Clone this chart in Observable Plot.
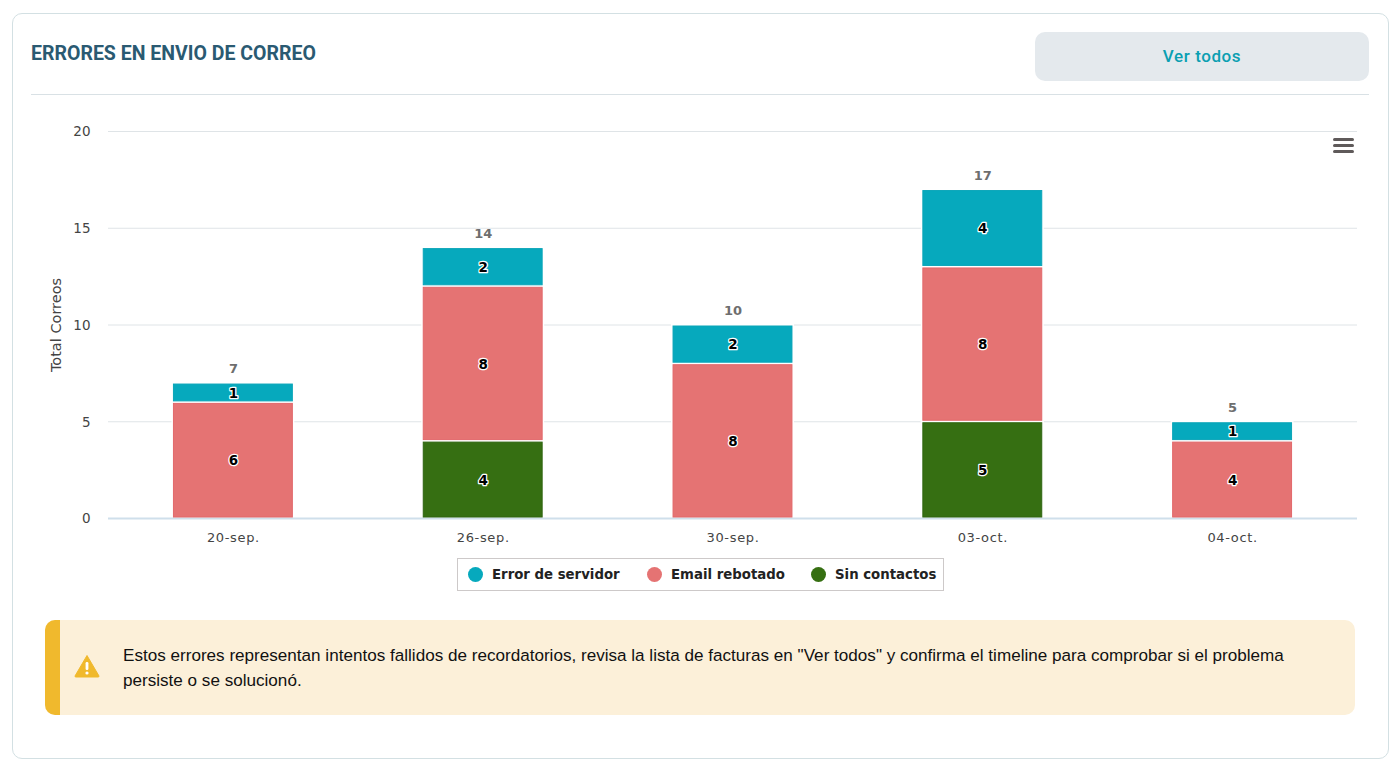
<!DOCTYPE html>
<html><head><meta charset="utf-8">
<script src="https://cdn.jsdelivr.net/npm/d3@7"></script>
<script src="https://cdn.jsdelivr.net/npm/@observablehq/plot@0.6"></script>
<style>
html,body{margin:0;padding:0;background:#fff;}
#page{position:relative;width:1400px;height:771px;overflow:hidden;}
#card{position:absolute;left:12px;top:13px;width:1375px;height:744px;border:1px solid #d3e0e3;border-radius:10px;box-sizing:content-box;}
#title{position:absolute;left:31px;top:42px;font:700 19.5px/24px Roboto,sans-serif;color:#2a5a72;white-space:nowrap;}
#btn{position:absolute;left:1035px;top:32px;width:334px;height:49px;background:#e4e9ed;border-radius:10px;font:500 17px/49px Roboto,sans-serif;letter-spacing:.6px;color:#0a9fb2;text-align:center;}
#rule{position:absolute;left:31px;top:94px;width:1338px;height:1px;background:#d9e1e5;}
#chart{position:absolute;left:0;top:110px;}
#burger{position:absolute;left:1333px;top:138px;width:21px;}
#burger i{display:block;height:3px;margin-bottom:3px;background:#5f5a5a;border-radius:1.5px;}
#legend{position:absolute;left:457px;top:558px;width:485px;height:31px;border:1px solid #cdc9c9;box-sizing:content-box;font:700 13.3px "DejaVu Sans",sans-serif;color:#222;white-space:nowrap;}
#legend span.k{display:inline-block;width:15px;height:15px;border-radius:50%;margin-right:9px;flex:none;}
#legend div{position:absolute;display:flex;align-items:center;top:8px;}
#note{position:absolute;left:45px;top:620px;width:1310px;height:95px;background:#fcf0d9;border-radius:10px;overflow:hidden;}
#note .bar{position:absolute;left:0;top:0;width:15px;height:100%;background:#f0b92d;}
#note .txt{position:absolute;left:78px;top:23px;width:1180px;font:17.1px/25px "Liberation Sans",Arial,sans-serif;color:#111;}
#note svg{position:absolute;left:29px;top:34px;}
</style></head><body>
<div id="page">
<div id="card"></div>
<div id="title">ERRORES EN ENVIO DE CORREO</div>
<div id="btn">Ver todos</div>
<div id="rule"></div>
<div id="chart"></div>
<div id="burger"><i></i><i></i><i></i></div>
<div id="legend"></div>
<div id="note"><div class="bar"></div>
<svg width="26" height="24" viewBox="0 0 26 24"><path d="M13 1.5 L25 22 Q25.3 23 24 23 L2 23 Q.7 23 1 22 Z" fill="#f0b92d" stroke="#f0b92d" stroke-linejoin="round"/><rect x="11.6" y="8" width="2.8" height="8" rx="1.2" fill="#fff"/><circle cx="13" cy="19" r="1.6" fill="#fff"/></svg>
<div class="txt">Estos errores representan intentos fallidos de recordatorios, revisa la lista de facturas en "Ver todos" y confirma el timeline para comprobar si el problema persiste o se solucionó.</div></div>
</div>
<script>
const dates = ["20-sep.","26-sep.","30-sep.","03-oct.","04-oct."];
const seriesNames = ["Error de servidor","Email rebotado","Sin contactos"];
const seriesColors = ["#06a9bd","#e57373","#366f12"];
const seriesBorders = ["#0aa5b8","#e2686b","#2f6510"];
const errorServidor = [1,2,2,4,1];
const emailRebotado = [6,8,8,8,4];
const sinContactos = [0,4,0,5,0];
const yTicks = [0,5,10,15,20];

const rows = [];
[[seriesNames[2],sinContactos],[seriesNames[1],emailRebotado],[seriesNames[0],errorServidor]].forEach(([s,vals]) => {
  vals.forEach((v,i) => { if (v > 0) rows.push({date:dates[i],series:s,value:v}); });
});
const totals = dates.map((d,i) => ({date:d,total:errorServidor[i]+emailRebotado[i]+sinContactos[i]}));
const stackOpts = {x:"date",y:"value",order:[seriesNames[2],seriesNames[1],seriesNames[0]],z:"series"};
const FONT = '"DejaVu Sans",sans-serif';
const borderOf = d => seriesBorders[seriesNames.indexOf(d.series)];

const plot = Plot.plot({
  width:1400,height:450,marginLeft:108,marginRight:43,marginTop:21,marginBottom:42,
  style:{background:"transparent",fontFamily:FONT,fontSize:"12px",overflow:"visible"},
  x:{domain:dates,paddingInner:0.52,paddingOuter:0.26,round:false,label:null},
  y:{domain:[0,20],label:null},
  color:{domain:seriesNames,range:seriesColors},
  marks:[
    Plot.ruleY(yTicks.filter(d=>d>0),{stroke:"#dfe4e7",strokeWidth:1}),
    Plot.barY(rows,Plot.stackY({...stackOpts,fill:"#fff",stroke:"#fff",strokeWidth:3})),
    Plot.ruleY([0],{stroke:"#cfdfeb",strokeWidth:2}),
    Plot.barY(rows,Plot.stackY({...stackOpts,fill:"series",stroke:{value:borderOf,scale:null},strokeWidth:1,insetTop:1.5,insetBottom:1,insetLeft:.5,insetRight:.5})),
    Plot.text(rows,Plot.stackY({...stackOpts,text:"value",fill:"#000",stroke:"#fff",strokeWidth:2.5,fontWeight:700,fontSize:13.5,dy:.5})),
    Plot.text(totals,{x:"date",y:"total",text:"total",dy:-14,fill:"#6e6e6e",fontWeight:700,fontSize:13}),
    Plot.axisY({ticks:yTicks,tickSize:0,tickPadding:18,fontSize:13.5,fill:"#444",label:null,dy:.5}),
    Plot.axisX({tickSize:0,tickPadding:14,fontSize:13,fill:"#444",label:null}),
    Plot.text(["Total Correos"],{frameAnchor:"left",textAnchor:"middle",dx:-52,rotate:-90,fill:"#444",fontSize:14.5})
  ]
});
plot.querySelectorAll('[aria-label="x-axis tick label"]').forEach(g => g.style.letterSpacing = "0.65px");
document.getElementById("chart").appendChild(plot);

const lx=[10,189,353];
const lg=document.getElementById("legend");
seriesNames.forEach((n,i)=>{
  const d=document.createElement("div");d.style.left=lx[i]+"px";
  const k=document.createElement("span");k.className="k";k.style.background=seriesColors[i];
  d.appendChild(k);d.appendChild(document.createTextNode(n));lg.appendChild(d);
});
</script>
</body></html>
